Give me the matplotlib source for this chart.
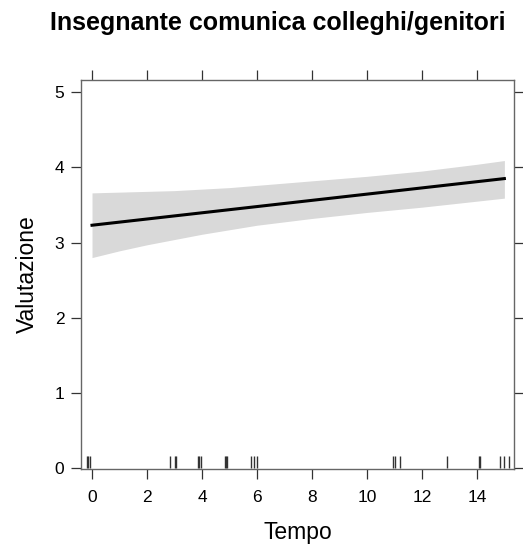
import matplotlib
matplotlib.use("Agg")
import matplotlib.pyplot as plt

plt.rcParams['font.family'] = ['Liberation Sans', 'DejaVu Sans']

# effetto stimato (Tempo -> Valutazione): retta
tempo_fit = [0, 15]
fit = [3.23, 3.85]

# banda di confidenza
tempo = [0, 1, 2, 3, 4, 5, 6, 8, 10, 12, 14, 15]
lower = [2.80, 2.89, 2.97, 3.04, 3.11, 3.17, 3.23, 3.32, 3.40, 3.47, 3.55, 3.59]
upper = [3.66, 3.67, 3.68, 3.69, 3.71, 3.73, 3.76, 3.82, 3.88, 3.95, 4.04, 4.09]

# rug delle osservazioni
rug = [-0.19, -0.13, -0.07, 2.85, 3.02, 3.07, 3.84, 3.89, 3.97,
       4.83, 4.88, 4.92, 5.80, 5.89, 6.01, 10.96, 11.02, 11.2,
       12.9, 14.07, 14.1, 14.84, 15.0, 15.16]

xticks = [0, 2, 4, 6, 8, 10, 12, 14]
yticks = [0, 1, 2, 3, 4, 5]

titolo = "Insegnante comunica colleghi/genitori"

fig = plt.figure(figsize=(5.23, 5.47), dpi=100)
ax = fig.add_axes([0.1549, 0.1426, 0.8279, 0.7111])

ax.fill_between(tempo, lower, upper, color="#d9d9d9", linewidth=0)
ax.plot(tempo_fit, fit, color="black", linewidth=2.2)
ax.vlines(rug, 0, 0.16, color="#333333", linewidth=1)

ax.set_xlim(-0.4, 15.35)
ax.set_ylim(-0.01, 5.16)
ax.set_xticks(xticks)
ax.set_yticks(yticks)

for s in ax.spines.values():
    s.set_color("#666666")
    s.set_linewidth(1)

ax.tick_params(axis="both", direction="out", length=7, width=0.9,
               color="#333333", labelsize=12.5, pad=5,
               top=True, right=True, labeltop=False, labelright=False)
ax.tick_params(axis="x", pad=8)

ax.set_xlabel("Tempo", fontsize=16.5, labelpad=12)
ax.set_ylabel("Valutazione", fontsize=16.5, labelpad=11)

fig.text(0.532, 0.958, titolo, fontsize=18, fontweight="bold",
         ha="center", va="center")

plt.savefig("out.png", dpi=100)
